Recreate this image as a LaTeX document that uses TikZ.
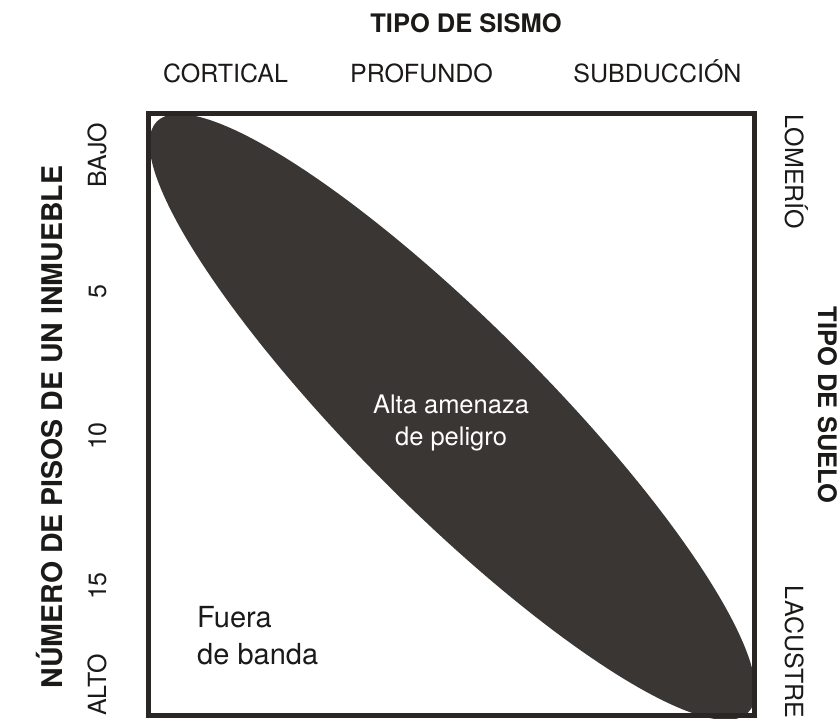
\documentclass[tikz,border=0pt]{standalone}
\usepackage{fontspec}
\setmainfont{TeX Gyre Heros}
\definecolor{inkk}{HTML}{1C1A19}
\definecolor{bandc}{HTML}{3A3634}
\definecolor{framec}{HTML}{2A2624}
\tikzset{
  lbl/.style={inner sep=0pt, text=inkk, font=\fontsize{25}{30}\selectfont},
  ttl/.style={inner sep=0pt, text=inkk, font=\fontsize{25.5}{30}\selectfont\bfseries},
  bigttl/.style={inner sep=0pt, text=inkk, font=\fontsize{28.5}{33}\selectfont\bfseries},
  inlbl/.style={inner sep=0pt, text=white, font=\fontsize{25.5}{30}\selectfont},
  outlbl/.style={inner sep=0pt, text=inkk, font=\fontsize{29}{34}\selectfont},
}
\begin{document}
\begin{tikzpicture}[x=1pt,y=-1pt]
\useasboundingbox (0,0) rectangle (840,719);
% band
\fill[bandc, rotate around={-45:(452.5,417)}] (452.5,417) ellipse [x radius=418, y radius=94];
% frame
\draw[framec, line width=5pt] (148.5,113.5) rectangle (754.5,715.5);
% top
\node[ttl, anchor=base] (ts) at (466,33) {TIPO DE SISMO};
\node[lbl, anchor=base] (cort) at (225.5,83) {CORTICAL};
\node[lbl, anchor=base] (prof) at (421.5,83) {PROFUNDO};
\node[lbl, anchor=base] (subd) at (657.5,83) {SUBDUCCIÓN};
% left
\node[bigttl, anchor=base, rotate=90] (np) at (62,427) {NÚMERO DE PISOS DE UN INMUEBLE};
\node[lbl, anchor=base, rotate=90] (bajo) at (106,155) {BAJO};
\node[lbl, anchor=base, rotate=90] (p5) at (106,292) {5};
\node[lbl, anchor=base, rotate=90] (p10) at (106,436) {10};
\node[lbl, anchor=base, rotate=90] (p15) at (106,586) {15};
\node[lbl, anchor=base, rotate=90] (alto) at (106,685) {ALTO};
% right
\node[lbl, anchor=base, rotate=-90] (lom) at (785,172) {LOMERÍO};
\node[ttl, anchor=base, rotate=-90] (tsu) at (818,405) {TIPO DE SUELO};
\node[lbl, anchor=base, rotate=-90] (lac) at (785,652) {LACUSTRE};
% inside
\node[inlbl, anchor=base] (alta1) at (451,413) {Alta amenaza};
\node[inlbl, anchor=base] (alta2) at (451,445) {de peligro};
\node[outlbl, anchor=base west] (fu1) at (197,627) {Fuera};
\node[outlbl, anchor=base west] (fu2) at (197,664) {de banda};
\end{tikzpicture}
\end{document}
